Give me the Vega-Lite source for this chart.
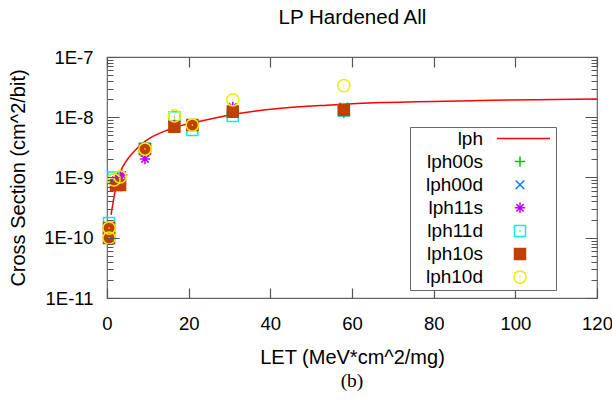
{
  "$schema": "https://vega.github.io/schema/vega-lite/v6.json",
  "width": 490,
  "height": 241,
  "autosize": "none",
  "padding": {"left": 107, "top": 57, "right": 15, "bottom": 104},
  "background": "white",
  "title": {"text": "(b)", "orient": "bottom", "frame": "group", "anchor": "middle", "font": "Liberation Serif", "fontSize": 19.5, "fontWeight": "normal", "color": "#000", "offset": 5},
  "config": {"view": {"stroke": "#666", "strokeWidth": 1.2, "fill": null}, "font": "Liberation Sans"},
  "resolve": {"axis": {"x": "independent", "y": "independent"}},
  "layer": [
    {
      "data": {"values": [
        {"let": 1.0, "xs": 2.4e-10, "series": "lph"},
        {"let": 2.0, "xs": 6.0e-10, "series": "lph"},
        {"let": 3.2, "xs": 1.2e-9, "series": "lph"},
        {"let": 4.9, "xs": 1.95e-9, "series": "lph"},
        {"let": 6.4, "xs": 2.6e-9, "series": "lph"},
        {"let": 8.5, "xs": 3.6e-9, "series": "lph"},
        {"let": 10.5, "xs": 4.5e-9, "series": "lph"},
        {"let": 14.7, "xs": 6.1e-9, "series": "lph"},
        {"let": 18.6, "xs": 7.4e-9, "series": "lph"},
        {"let": 22.8, "xs": 8.6e-9, "series": "lph"},
        {"let": 30, "xs": 1.09e-8, "series": "lph"},
        {"let": 42, "xs": 1.4e-8, "series": "lph"},
        {"let": 55, "xs": 1.6e-8, "series": "lph"},
        {"let": 67, "xs": 1.75e-8, "series": "lph"},
        {"let": 89, "xs": 1.88e-8, "series": "lph"},
        {"let": 105, "xs": 1.96e-8, "series": "lph"},
        {"let": 120, "xs": 2.01e-8, "series": "lph"}
      ]},
      "mark": {"type": "line", "interpolate": "monotone", "strokeWidth": 1.5, "clip": true},
      "encoding": {
        "x": {"field": "let", "type": "quantitative",
          "scale": {"domain": [0, 120], "nice": false, "zero": false},
          "axis": {"orient": "bottom", "zindex": 1, "domain": false, "values": [0, 20, 40, 60, 80, 100, 120], "ticks": false,
            "grid": true, "gridColor": "#555", "gridWidth": 1.2, "gridOpacity": 1, "gridDash": [10, 221, 10],
            "labelFont": "Liberation Sans", "labelFontSize": 18.5, "labelColor": "#000", "labelPadding": 16, "labelFlush": false, "labelOverlap": false,
            "title": "LET (MeV*cm^2/mg)", "titleFont": "Liberation Sans", "titleFontSize": 20, "titleFontWeight": "normal", "titleColor": "#000", "titleY": 59, "titleBaseline": "middle"}},
        "y": {"field": "xs", "type": "quantitative",
          "scale": {"type": "log", "domain": [1e-11, 1e-7], "nice": false},
          "axis": {"orient": "left", "zindex": 1, "domain": false, "ticks": false,
            "values": [1e-11, 2e-11, 3e-11, 4e-11, 5e-11, 6e-11, 7e-11, 8e-11, 9e-11, 1e-10, 2e-10, 3e-10, 4e-10, 5e-10, 6e-10, 7e-10, 8e-10, 9e-10, 1e-9, 2e-9, 3e-9, 4e-9, 5e-9, 6e-9, 7e-9, 8e-9, 9e-9, 1e-8, 2e-8, 3e-8, 4e-8, 5e-8, 6e-8, 7e-8, 8e-8, 9e-8, 1e-7],
            "labelExpr": "abs(log(datum.value)/LN10 - round(log(datum.value)/LN10)) < 0.001 ? '1E' + round(log(datum.value)/LN10) : ''",
            "grid": true, "gridColor": "#555", "gridWidth": 1.2, "gridOpacity": 1,
            "gridDash": {"condition": {"test": "abs(log(datum.value)/LN10 - round(log(datum.value)/LN10)) < 0.001", "value": [12, 466, 12]}, "value": [6, 478, 6]},
            "labelFont": "Liberation Sans", "labelFontSize": 18.5, "labelColor": "#000", "labelPadding": 14, "labelOverlap": false, "labelFlush": false,
            "title": "Cross Section (cm^2/bit)", "titleFont": "Liberation Sans", "titleFontSize": 20, "titleFontWeight": "normal", "titleColor": "#000", "titleX": -89, "titleBaseline": "middle"}},
        "color": {"field": "series", "type": "nominal",
          "scale": {"domain": ["lph", "lph00s", "lph00d", "lph11s", "lph11d", "lph10s", "lph10d"],
                    "range": ["#ff0000", "#00c000", "#0080ff", "#c000ff", "#00eeee", "#c04000", "#eeee00"]},
          "legend": {"title": null, "orient": "none", "legendX": 303, "legendY": 70, "padding": 2, "zindex": 2,
            "strokeColor": "#666", "fillColor": "white", "labelFont": "Liberation Sans", "labelFontSize": 19, "labelColor": "#000",
            "rowPadding": 3.1, "symbolSize": 150, "symbolStrokeWidth": 1.5,
            "encoding": {
              "labels": {"align": {"value": "right"}, "x": {"value": 71}},
              "symbols": {"x": {"value": 108}}
            }}}
      }
    },
    {
      "data": {"values": [
        {"let": 0.5, "xs": 1.3e-10, "series": "lph00s"},
        {"let": 2.5, "xs": 8.5e-10, "series": "lph00s"},
        {"let": 9.3, "xs": 2.6e-9, "series": "lph00s"},
        {"let": 16.5, "xs": 7.2e-9, "series": "lph00s"},
        {"let": 20.9, "xs": 7.2e-9, "series": "lph00s"},
        {"let": 30.8, "xs": 1.2e-8, "series": "lph00s"},
        {"let": 58, "xs": 1.18e-8, "series": "lph00s"},
        {"let": 0.5, "xs": 1.3e-10, "series": "lph00d"},
        {"let": 2.5, "xs": 8.5e-10, "series": "lph00d"},
        {"let": 9.3, "xs": 2.6e-9, "series": "lph00d"},
        {"let": 16.5, "xs": 7.2e-9, "series": "lph00d"},
        {"let": 20.9, "xs": 7.2e-9, "series": "lph00d"},
        {"let": 30.8, "xs": 1.2e-8, "series": "lph00d"},
        {"let": 58, "xs": 1.48e-8, "series": "lph00d"},
        {"let": 0.5, "xs": 1.2e-10, "series": "lph11s"},
        {"let": 2.5, "xs": 1.02e-9, "series": "lph11s"},
        {"let": 3.7, "xs": 1.1e-9, "series": "lph11s"},
        {"let": 9.3, "xs": 2.03e-9, "series": "lph11s"},
        {"let": 16.5, "xs": 7.5e-9, "series": "lph11s"},
        {"let": 20.9, "xs": 7.2e-9, "series": "lph11s"},
        {"let": 30.8, "xs": 1.48e-8, "series": "lph11s"},
        {"let": 58, "xs": 1.3e-8, "series": "lph11s"},
        {"let": 0.5, "xs": 1.76e-10, "series": "lph11d"},
        {"let": 1.6, "xs": 1.0e-9, "series": "lph11d"},
        {"let": 9.3, "xs": 3.0e-9, "series": "lph11d"},
        {"let": 16.5, "xs": 1.0e-8, "series": "lph11d"},
        {"let": 20.9, "xs": 6.14e-9, "series": "lph11d"},
        {"let": 30.8, "xs": 1.05e-8, "series": "lph11d"},
        {"let": 58, "xs": 1.3e-8, "series": "lph11d"},
        {"let": 0.5, "xs": 1.45e-10, "series": "lph10s"},
        {"let": 0.5, "xs": 9.9e-11, "series": "lph10s"},
        {"let": 2.2, "xs": 7.5e-10, "series": "lph10s"},
        {"let": 3.2, "xs": 7.5e-10, "series": "lph10s"},
        {"let": 9.3, "xs": 2.97e-9, "series": "lph10s"},
        {"let": 16.5, "xs": 6.97e-9, "series": "lph10s"},
        {"let": 20.9, "xs": 7.43e-9, "series": "lph10s"},
        {"let": 30.8, "xs": 1.24e-8, "series": "lph10s"},
        {"let": 58, "xs": 1.32e-8, "series": "lph10s"},
        {"let": 0.5, "xs": 1.45e-10, "series": "lph10d"},
        {"let": 0.5, "xs": 9.9e-11, "series": "lph10d"},
        {"let": 1.7, "xs": 9.1e-10, "series": "lph10d"},
        {"let": 3.2, "xs": 1.02e-9, "series": "lph10d"},
        {"let": 9.3, "xs": 2.97e-9, "series": "lph10d"},
        {"let": 16.5, "xs": 1.05e-8, "series": "lph10d"},
        {"let": 20.9, "xs": 7.43e-9, "series": "lph10d"},
        {"let": 30.8, "xs": 1.95e-8, "series": "lph10d"},
        {"let": 58, "xs": 3.35e-8, "series": "lph10d"}
      ]},
      "mark": {"type": "point", "filled": false, "size": 150, "strokeWidth": 1.5, "opacity": 1},
      "encoding": {
        "x": {"field": "let", "type": "quantitative",
          "scale": {"domain": [0, 120], "nice": false, "zero": false},
          "axis": {"orient": "top", "domain": false, "grid": false, "labels": false, "ticks": false,
            "title": "LP Hardened All", "titleFont": "Liberation Sans", "titleFontSize": 20.5, "titleFontWeight": "normal", "titleColor": "#000", "titleY": -40, "titleBaseline": "middle"}},
        "y": {"field": "xs", "type": "quantitative",
          "scale": {"type": "log", "domain": [1e-11, 1e-7], "nice": false},
          "axis": null},
        "color": {"field": "series", "type": "nominal",
          "scale": {"domain": ["lph", "lph00s", "lph00d", "lph11s", "lph11d", "lph10s", "lph10d"],
                    "range": ["#ff0000", "#00c000", "#0080ff", "#c000ff", "#00eeee", "#c04000", "#eeee00"]},
          "legend": {"title": null, "orient": "none", "legendX": 303, "legendY": 70, "padding": 2, "zindex": 2,
            "strokeColor": "#666", "fillColor": "white", "labelFont": "Liberation Sans", "labelFontSize": 19, "labelColor": "#000",
            "rowPadding": 3.1, "symbolSize": 150, "symbolStrokeWidth": 1.5,
            "encoding": {
              "labels": {"align": {"value": "right"}, "x": {"value": 71}},
              "symbols": {"x": {"value": 108}}
            }}},
        "shape": {"field": "series", "type": "nominal",
          "scale": {"domain": ["lph", "lph00s", "lph00d", "lph11s", "lph11d", "lph10s", "lph10d"],
                    "range": ["M-3.76,0H4.9",
                              "M-0.85,0H0.85M0,-0.85V0.85",
                              "M-0.7,-0.7L0.7,0.7M-0.7,0.7L0.7,-0.7",
                              "M-0.85,0H0.85M0,-0.85V0.85M-0.6,-0.6L0.6,0.6M-0.6,0.6L0.6,-0.6",
                              "M-0.9,-0.9H0.9V0.9H-0.9ZM-0.1,0H0.1",
                              "M-0.9,-0.9H0.9V0.9H-0.9ZM-0.9,-0.7H0.9M-0.9,-0.5H0.9M-0.9,-0.3H0.9M-0.9,-0.1H0.9M-0.9,0.1H0.9M-0.9,0.3H0.9M-0.9,0.5H0.9M-0.9,0.7H0.9",
                              "M-1,0A1,1 0 1,0 1,0A1,1 0 1,0 -1,0ZM-0.1,0H0.1"]},
          "legend": {"title": null, "orient": "none", "legendX": 303, "legendY": 70, "padding": 2, "zindex": 2,
            "strokeColor": "#666", "fillColor": "white", "labelFont": "Liberation Sans", "labelFontSize": 19, "labelColor": "#000",
            "rowPadding": 3.1, "symbolSize": 150, "symbolStrokeWidth": 1.5,
            "encoding": {
              "labels": {"align": {"value": "right"}, "x": {"value": 71}},
              "symbols": {"x": {"value": 108}}
            }}}
      }
    }
  ]
}
